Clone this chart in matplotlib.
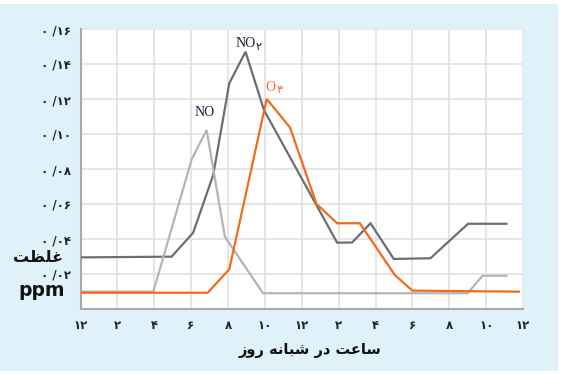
import matplotlib
matplotlib.use("Agg")
import matplotlib.pyplot as plt
from matplotlib.patches import Rectangle

# ---- data (hours since midnight, concentration in ppm) ----
no_hours = [0, 3.95, 6.03, 6.84, 7.83, 9.9, 21.0, 21.8, 23.1]
no_vals = [0.0099, 0.0099, 0.0855, 0.1023, 0.0413, 0.009, 0.009, 0.019, 0.019]

no2_hours = [0, 4.94, 6.11, 7.2, 8.07, 8.95, 9.95, 13.92, 14.73, 15.73, 16.99, 18.98, 21.02, 23.1]
no2_vals = [0.0295, 0.0299, 0.0436, 0.0766, 0.129, 0.147, 0.1137, 0.0379, 0.038, 0.049, 0.0286, 0.029, 0.0487, 0.0487]

o3_hours = [0, 6.9, 8.07, 10.1, 11.36, 12.8, 13.92, 15.15, 17.05, 18.0, 23.78]
o3_vals = [0.0093, 0.0093, 0.0227, 0.12, 0.1038, 0.06, 0.049, 0.049, 0.0194, 0.0105, 0.0099]

x_ticks = list(range(0, 25, 2))
x_labels = ["۱۲", "۲", "۴", "۶", "۸", "۱۰", "۱۲", "۲", "۴", "۶", "۸", "۱۰", "۱۲"]
y_ticks = [0.02, 0.04, 0.06, 0.08, 0.10, 0.12, 0.14, 0.16]
y_labels = ["۰ /۰۲", "۰ /۰۴", "۰ /۰۶", "۰ /۰۸", "۰ /۱۰", "۰ /۱۲", "۰ /۱۴", "۰ /۱۶"]

# Persian text, pre-shaped (presentation forms, visual order)
xlabel_text = "\uFEAF\uFEED\uFEAD \uFEEA\uFEE7\uFE8E\uFE92\uFEB7 \uFEAD\uFEA9 \uFE96\uFECB\uFE8E\uFEB3"
ylabel_text = "\uFE96\uFEC8\uFEE0\uFECF"

BG = "#dff1f9"
C_NO = "#b5b5b5"
C_NO2 = "#6d6e71"
C_O3 = "#f26b1d"

fig = plt.figure(figsize=(5.61, 3.74), dpi=100, facecolor="white")
fig.patches.append(Rectangle((0, 1 - 371 / 374), 558 / 561, (371 - 4) / 374,
                             transform=fig.transFigure, facecolor=BG,
                             edgecolor="none", zorder=-10))

ax = fig.add_axes([80.5 / 561, 1 - 309 / 374, (523 - 80.5) / 561, (309 - 29) / 374])
ax.set_zorder(1)
ax.set_facecolor("white")
ax.set_xlim(0, 24)
ax.set_ylim(0, 0.16)

ax.set_xticks(x_ticks)
ax.set_xticklabels(x_labels, fontsize=8.5, fontweight="bold", color="#222233",
                   family=["DejaVu Sans"])
ax.set_yticks(y_ticks)
ax.set_yticklabels(y_labels, fontsize=8.5, fontweight="bold", color="#222233",
                   family=["DejaVu Sans"])
ax.tick_params(axis="both", length=0)
ax.tick_params(axis="x", pad=7)
ax.tick_params(axis="y", pad=7)

ax.grid(True, color="#e2e2e2", linewidth=1.2)
ax.set_axisbelow(True)
for s in ["top", "right"]:
    ax.spines[s].set_visible(False)
for s in ["left", "bottom"]:
    ax.spines[s].set_color("#a9a9a9")
    ax.spines[s].set_linewidth(1.5)

ax.plot(no2_hours, no2_vals, color=C_NO2, lw=1.6, zorder=3, solid_joinstyle="miter")
ax.plot(no_hours, no_vals, color=C_NO, lw=1.6, zorder=3, solid_joinstyle="miter")
ax.plot(o3_hours, o3_vals, color=C_O3, lw=1.6, zorder=4, solid_joinstyle="miter")

serif = ["Liberation Serif", "DejaVu Sans"]
ax.text(6.75, 0.112, "NO", color="#1a1a3a", fontsize=10, family=serif,
        ha="center", va="center")
ax.text(8.95, 0.1515, "NO", color="#1a1a3a", fontsize=10, family=serif,
        ha="center", va="center")
ax.text(9.68, 0.1500, "۲", color="#1a1a3a", fontsize=8, family=["DejaVu Sans"],
        ha="center", va="center")
ax.text(10.3, 0.1265, "O", color=C_O3, fontsize=10, family=serif,
        ha="center", va="center")
ax.text(10.8, 0.1250, "۳", color=C_O3, fontsize=8, family=["DejaVu Sans"],
        ha="center", va="center")

fig.text(310 / 561, 1 - 350 / 374, xlabel_text, fontsize=10.5, fontweight="bold",
         ha="center", va="center", color="#111111", family=["DejaVu Sans"])
fig.text(38 / 561, 1 - 258 / 374, ylabel_text, fontsize=11.5, fontweight="bold",
         ha="center", va="center", color="#111111", family=["DejaVu Sans"])
fig.text(42 / 561, 1 - 291 / 374, "ppm", fontsize=13.5, fontweight="bold",
         ha="center", va="center", color="#111111", family=["DejaVu Sans"])

fig.savefig("out.png", dpi=100, facecolor=fig.get_facecolor())
